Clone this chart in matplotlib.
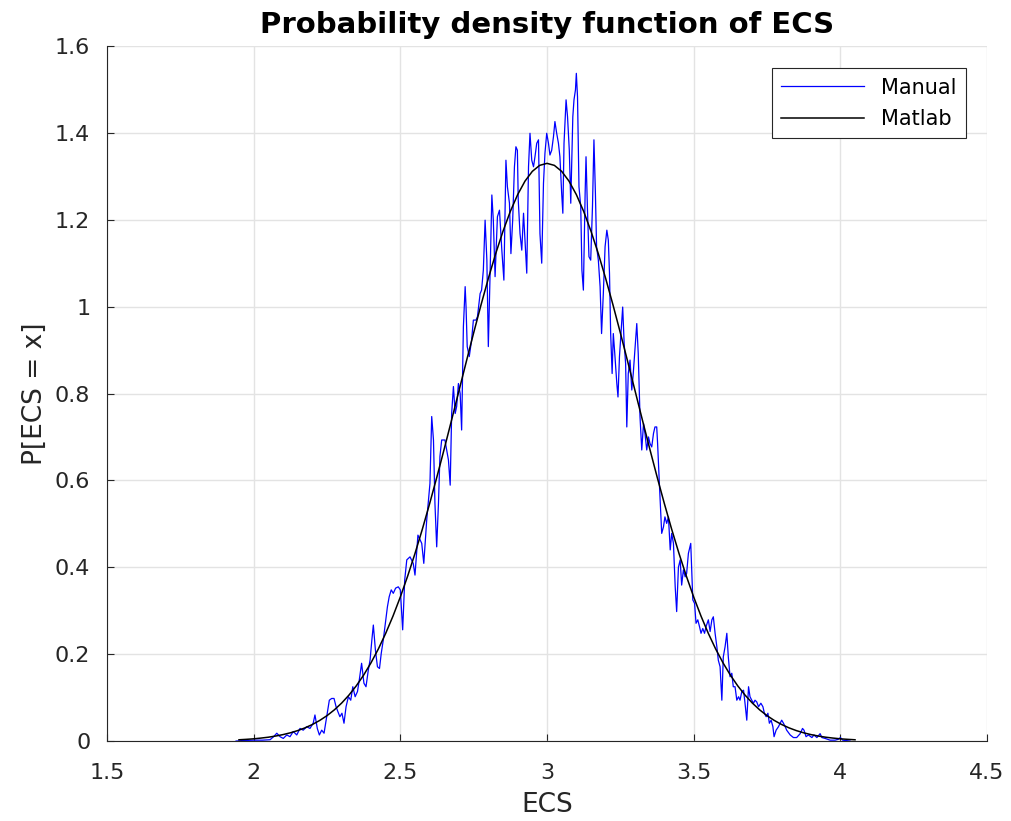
import numpy as np
import matplotlib
matplotlib.use('Agg')
import matplotlib.pyplot as plt

# "Manual" estimate of the density
manual_x = [1.94, 1.96, 2.0, 2.03, 2.056, 2.068, 2.079, 2.09, 2.101, 2.113, 2.124, 2.135,
            2.147, 2.158, 2.169, 2.181, 2.192, 2.203, 2.209, 2.217, 2.224, 2.232, 2.24,
            2.249, 2.258, 2.266, 2.274, 2.281, 2.287, 2.294, 2.301, 2.308, 2.315, 2.323,
            2.331, 2.338, 2.346, 2.354, 2.36, 2.368, 2.376, 2.383, 2.391, 2.397, 2.403,
            2.408, 2.415, 2.422, 2.429, 2.435, 2.442, 2.449, 2.456, 2.462, 2.469, 2.476,
            2.484, 2.493, 2.5, 2.508, 2.515, 2.522, 2.533, 2.544, 2.55, 2.56, 2.573, 2.58,
            2.59, 2.601, 2.607, 2.613, 2.618, 2.624, 2.63, 2.635, 2.641, 2.652, 2.658,
            2.664, 2.67, 2.675, 2.681, 2.687, 2.692, 2.698, 2.704, 2.709, 2.715, 2.721,
            2.724, 2.728, 2.735, 2.743, 2.749, 2.758, 2.763, 2.772, 2.777, 2.783, 2.789,
            2.795, 2.8, 2.806, 2.812, 2.817, 2.823, 2.831, 2.838, 2.846, 2.853, 2.86,
            2.865, 2.872, 2.877, 2.883, 2.889, 2.894, 2.899, 2.902, 2.908, 2.914, 2.92,
            2.925, 2.931, 2.937, 2.942, 2.948, 2.954, 2.959, 2.965, 2.971, 2.976, 2.982,
            2.988, 2.993, 2.999, 3.005, 3.01, 3.016, 3.022, 3.027, 3.033, 3.039, 3.044,
            3.05, 3.054, 3.058, 3.065, 3.07, 3.076, 3.081, 3.088, 3.092, 3.097, 3.1,
            3.104, 3.109, 3.115, 3.119, 3.124, 3.13, 3.133, 3.138, 3.143, 3.149, 3.155,
            3.16, 3.165, 3.169, 3.175, 3.181, 3.186, 3.192, 3.198, 3.204, 3.209, 3.213,
            3.217, 3.222, 3.226, 3.231, 3.238, 3.242, 3.247, 3.252, 3.258, 3.263, 3.268,
            3.272, 3.277, 3.283, 3.289, 3.294, 3.301, 3.306, 3.311, 3.317, 3.323, 3.329,
            3.334, 3.34, 3.346, 3.351, 3.357, 3.363, 3.368, 3.374, 3.377, 3.383, 3.391,
            3.397, 3.402, 3.408, 3.414, 3.42, 3.425, 3.431, 3.437, 3.442, 3.448, 3.454,
            3.459, 3.465, 3.471, 3.476, 3.482, 3.49, 3.497, 3.503, 3.508, 3.514, 3.52,
            3.525, 3.531, 3.537, 3.542, 3.55, 3.556, 3.562, 3.567, 3.573, 3.579, 3.584,
            3.59, 3.596, 3.601, 3.607, 3.613, 3.618, 3.624, 3.63, 3.635, 3.641, 3.647,
            3.653, 3.658, 3.664, 3.67, 3.675, 3.681, 3.687, 3.692, 3.698, 3.704, 3.709,
            3.715, 3.721, 3.729, 3.736, 3.741, 3.747, 3.753, 3.758, 3.764, 3.77, 3.774,
            3.781, 3.789, 3.795, 3.8, 3.806, 3.812, 3.817, 3.829, 3.84, 3.851, 3.863,
            3.871, 3.876, 3.883, 3.891, 3.903, 3.91, 3.92, 3.931, 3.937, 3.948, 3.965,
            3.982, 3.993, 4.0, 4.008, 4.033]
manual_y = [0.0, 0.001, 0.002, 0.002, 0.003, 0.01, 0.018, 0.01, 0.006, 0.014, 0.01, 0.022,
            0.014, 0.029, 0.025, 0.033, 0.029, 0.041, 0.06, 0.029, 0.014, 0.025, 0.018,
            0.056, 0.094, 0.098, 0.098, 0.079, 0.068, 0.056, 0.064, 0.041, 0.079, 0.102,
            0.094, 0.125, 0.102, 0.114, 0.14, 0.179, 0.133, 0.125, 0.164, 0.187, 0.233,
            0.267, 0.21, 0.171, 0.167, 0.202, 0.233, 0.271, 0.309, 0.332, 0.348, 0.34,
            0.352, 0.355, 0.348, 0.256, 0.371, 0.417, 0.424, 0.409, 0.382, 0.474, 0.455, 0.409,
            0.509, 0.593, 0.747, 0.693, 0.547, 0.447, 0.547, 0.655, 0.693, 0.693, 0.67,
            0.647, 0.589, 0.754, 0.816, 0.754, 0.77, 0.823, 0.80, 0.716, 0.954, 1.046,
            1.0, 0.908, 0.885, 0.923, 0.969, 0.969, 0.977, 1.03, 1.038, 1.084, 1.199,
            1.107, 0.908, 1.076, 1.257, 1.199, 1.069, 1.207, 1.222, 1.13, 1.061, 1.337,
            1.276, 1.238, 1.122, 1.199, 1.322, 1.368, 1.36, 1.245, 1.168, 1.13, 1.215,
            1.153, 1.077, 1.322, 1.399, 1.337, 1.322, 1.345, 1.376, 1.384, 1.168, 1.1,
            1.284, 1.353, 1.399, 1.376, 1.349, 1.36, 1.391, 1.426, 1.399, 1.376, 1.345,
            1.261, 1.215, 1.376, 1.476, 1.437, 1.36, 1.238, 1.437, 1.476, 1.499, 1.537,
            1.483, 1.276, 1.23, 1.084, 1.038, 1.261, 1.345, 1.222, 1.115, 1.107, 1.23,
            1.384, 1.261, 1.138, 1.107, 1.046, 0.938, 1.03, 1.138, 1.176, 1.153, 1.077,
            0.938, 0.846, 0.938, 0.892, 0.823, 0.792, 0.885, 0.938, 0.999, 0.915, 0.869,
            0.723, 0.846, 0.877, 0.808, 0.846, 0.915, 0.961, 0.892, 0.747, 0.67, 0.731,
            0.708, 0.67, 0.7, 0.685, 0.677, 0.708, 0.723, 0.723, 0.685, 0.593, 0.478,
            0.493, 0.516, 0.501, 0.516, 0.44, 0.478, 0.455, 0.355, 0.298, 0.4, 0.417,
            0.359, 0.394, 0.378, 0.386, 0.432, 0.455, 0.325, 0.317, 0.271, 0.279, 0.263,
            0.248, 0.259, 0.248, 0.263, 0.279, 0.252, 0.279, 0.286, 0.248, 0.217, 0.186,
            0.171, 0.094, 0.194, 0.217, 0.248, 0.194, 0.148, 0.156, 0.125, 0.125, 0.094,
            0.102, 0.094, 0.114, 0.117, 0.087, 0.048, 0.125, 0.102, 0.094, 0.087, 0.094,
            0.09, 0.079, 0.087, 0.079, 0.064, 0.056, 0.064, 0.041, 0.048, 0.033, 0.01,
            0.025, 0.033, 0.041, 0.048, 0.041, 0.033, 0.025, 0.014, 0.008, 0.008, 0.017,
            0.029, 0.025, 0.01, 0.014, 0.008, 0.014, 0.008, 0.017, 0.008, 0.006, 0.002,
            0.002, 0.004, 0.008, 0.002, 0.0]

# "Matlab" density, read every 0.025 from 1.95 to 4.05
matlab_x = np.linspace(1.95, 4.05, 85)
matlab_y = [0.0029, 0.0039, 0.0051, 0.0068, 0.0088, 0.0115, 0.0148, 0.0189, 0.0240,
            0.0303, 0.0380, 0.0473, 0.0584, 0.0717, 0.0874, 0.1058, 0.1272, 0.1518,
            0.1800, 0.2118, 0.2477, 0.2876, 0.3316, 0.3797, 0.4317, 0.4875, 0.5467,
            0.6088, 0.6733, 0.7395, 0.8066, 0.8736, 0.9397, 1.0038, 1.0648, 1.1218,
            1.1735, 1.2192, 1.2579, 1.2889, 1.3114, 1.3252, 1.3298,
            1.3252, 1.3114, 1.2889, 1.2579, 1.2192, 1.1735, 1.1218, 1.0648, 1.0038,
            0.9397, 0.8736, 0.8066, 0.7395, 0.6733, 0.6088, 0.5467, 0.4875, 0.4317,
            0.3797, 0.3316, 0.2876, 0.2477, 0.2118, 0.1800, 0.1518, 0.1272, 0.1058,
            0.0874, 0.0717, 0.0584, 0.0473, 0.0380, 0.0303, 0.0240, 0.0189, 0.0148,
            0.0115, 0.0088, 0.0068, 0.0051, 0.0039, 0.0029]

x_ticks = [1.5, 2, 2.5, 3, 3.5, 4, 4.5]
x_tick_labels = ['1.5', '2', '2.5', '3', '3.5', '4', '4.5']
y_ticks = [0, 0.2, 0.4, 0.6, 0.8, 1, 1.2, 1.4, 1.6]
y_tick_labels = ['0', '0.2', '0.4', '0.6', '0.8', '1', '1.2', '1.4', '1.6']

fig = plt.figure(figsize=(10.11, 8.21), dpi=100)
ax = fig.add_axes([0.1058, 0.0974, 0.8705, 0.8466])

ax.plot(manual_x, manual_y, color='#0000ff', lw=0.9, label='Manual')
ax.plot(matlab_x, matlab_y, color='black', lw=1.1, label='Matlab')

ax.set_xlim(1.5, 4.5)
ax.set_ylim(0, 1.6)
ax.set_xticks(x_ticks)
ax.set_xticklabels(x_tick_labels)
ax.set_yticks(y_ticks)
ax.set_yticklabels(y_tick_labels)
ax.tick_params(direction='in', labelsize=16, colors='#262626', length=5)
ax.tick_params(axis='x', pad=16)
ax.tick_params(axis='y', pad=12)
ax.grid(True, color='#e3e3e3', lw=1)
ax.set_axisbelow(True)
for side in ['top', 'right']:
    ax.spines[side].set_visible(False)
for side in ['left', 'bottom']:
    ax.spines[side].set_color('#262626')

ax.set_xlabel('ECS', fontsize=19, color='#262626', labelpad=6)
ax.set_ylabel('P[ECS = x]', fontsize=19, color='#262626', labelpad=5)
ax.set_title('Probability density function of ECS', fontsize=21, fontweight='bold', pad=9)

leg = ax.legend(loc='upper right', bbox_to_anchor=(0.976, 0.968), borderaxespad=0,
                fontsize=15, fancybox=False, handlelength=4.0, framealpha=1,
                edgecolor='#262626', borderpad=0.45, labelspacing=0.55)
leg.get_frame().set_linewidth(0.8)

fig.savefig('out.png', dpi=100)
